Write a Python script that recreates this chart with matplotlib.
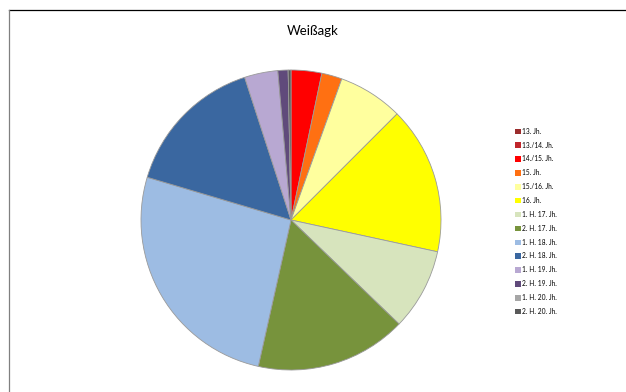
import matplotlib
matplotlib.use("Agg")
import matplotlib.pyplot as plt
from matplotlib.patches import Patch
from matplotlib.lines import Line2D

plt.rcParams['font.family'] = ['Lato', 'DejaVu Sans']

# periods, clockwise from 12 o'clock
labels = ['13. Jh.', '13./14. Jh.', '14./15. Jh.', '15. Jh.', '15./16. Jh.', '16. Jh.',
          '1. H. 17. Jh.', '2. H. 17. Jh.', '1. H. 18. Jh.', '2. H. 18. Jh.',
          '1. H. 19. Jh.', '2. H. 19. Jh.', '1. H. 20. Jh.', '2. H. 20. Jh.']
shares = [0.0, 0.0, 3.3, 2.2, 7.0, 15.9, 8.8, 16.3, 26.1, 15.4, 3.6, 1.1, 0.0, 0.3]
colors = ['#9B2D2D', '#C0262B', '#FF0000', '#FF7012', '#FFFF9E', '#FFFF00',
          '#D7E4BD', '#77933C', '#9DBCE3', '#3A67A0',
          '#B8A8D2', '#604A7B', '#A6A6A6', '#595959']

W, H = 626, 392
fig = plt.figure(figsize=(W / 100, H / 100), dpi=100)

# pie axes: centre (291, 220), radius 150 px
cx, cy, r = 291, 220, 150
ax = fig.add_axes([(cx - r) / W, (H - cy - r) / H, 2 * r / W, 2 * r / H])
ax.pie(shares, colors=colors, startangle=90, counterclock=False, radius=1,
       wedgeprops=dict(edgecolor='#9a9a9a', linewidth=0.6))
ax.set_xlim(-1, 1)
ax.set_ylim(-1, 1)
ax.set_aspect('equal')
ax.axis('off')

fig.text(313 / W, 1 - 31 / H, 'Weißagk', ha='center', va='center', fontsize=9.5)

handles = [Patch(facecolor=c, edgecolor='none') for c in colors]
fig.legend(handles, labels, loc='upper left', bbox_to_anchor=(512 / W, 1 - 125 / H),
           frameon=False, fontsize=4.8, handlelength=0.9, handleheight=0.9,
           handletextpad=0.2, labelspacing=1.03, borderaxespad=0)

# chart area border (top and left only visible)
fig.add_artist(Line2D([9 / W, 1], [1 - 10 / H, 1 - 10 / H], color='black', lw=0.9))
fig.add_artist(Line2D([9 / W, 9 / W], [0, 1 - 10 / H], color='#808080', lw=0.9))

fig.savefig('out.png', dpi=100)
